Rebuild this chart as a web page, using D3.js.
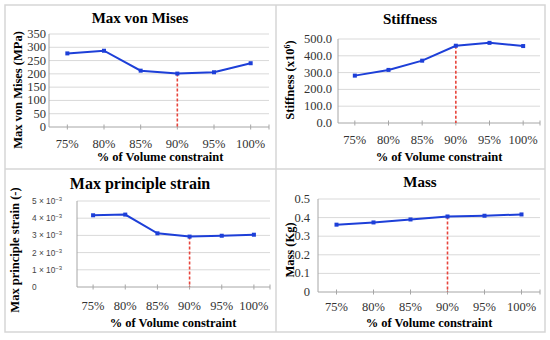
<!DOCTYPE html>
<html><head><meta charset="utf-8">
<script src="https://cdn.jsdelivr.net/npm/d3@7"></script>
<style>body{margin:0;background:#fff}svg{display:block}</style>
</head><body>
<svg id="c" width="550" height="340"></svg>
<script>
const categories = ["75%","80%","85%","90%","95%","100%"];
const vonMises = [277, 287, 212, 201, 206, 240];
const stiffness = [282, 316, 371, 460, 477, 458];
const strain = [4.17e-3, 4.21e-3, 3.12e-3, 2.93e-3, 2.98e-3, 3.04e-3];
const mass = [0.362, 0.374, 0.390, 0.406, 0.410, 0.417];
const vonMisesTicks = [0,50,100,150,200,250,300,350];
const stiffnessTicks = [0,100,200,300,400,500];
const strainTicks = [0,1e-3,2e-3,3e-3,4e-3,5e-3];
const massTicks = [0,0.1,0.2,0.3,0.4,0.5];
const highlight = "90%";

const svg = d3.select("#c");
const serif = "'Liberation Serif','Times New Roman',serif";
const blue = "#1d3fd8", red = "#e8453c", grid = "#d9d9d9", axisCol = "#a6a6a6";

// panel borders
svg.append("rect").attr("x",5).attr("y",5).attr("width",540).attr("height",327)
  .attr("fill","none").attr("stroke","#d6d6d6").attr("stroke-width",1.5);
svg.append("line").attr("x1",276).attr("x2",276).attr("y1",5).attr("y2",332).attr("stroke","#d6d6d6").attr("stroke-width",1.5);
svg.append("line").attr("x1",5).attr("x2",545).attr("y1",169).attr("y2",169).attr("stroke","#d6d6d6").attr("stroke-width",1.5);

function panel(o){
  const g = svg.append("g");
  const x = d3.scaleBand().domain(categories).range([o.x0,o.x1]);
  const y = d3.scaleLinear().domain([o.ticks[0],o.ticks[o.ticks.length-1]]).range([o.y0,o.y1]);
  const cx = d => x(d)+x.bandwidth()/2;
  g.selectAll(".gl").data(o.ticks.slice(1)).enter().append("line")
    .attr("x1",o.x0).attr("x2",o.x1).attr("y1",d=>y(d)).attr("y2",d=>y(d))
    .attr("stroke",grid).attr("stroke-width",1);
  g.append("line").attr("x1",o.x0).attr("x2",o.x0).attr("y1",o.y0).attr("y2",o.y1).attr("stroke",axisCol);
  g.append("line").attr("x1",o.x0).attr("x2",o.x1).attr("y1",o.y0).attr("y2",o.y0).attr("stroke",axisCol);
  const tx = categories.map(cx).concat([o.x1]);
  g.selectAll(".xt").data(tx).enter().append("line")
    .attr("x1",d=>d).attr("x2",d=>d).attr("y1",o.y0-2.5).attr("y2",o.y0+2.5).attr("stroke",axisCol);
  g.selectAll(".xl").data(categories).enter().append("text")
    .attr("x",cx).attr("y",o.xly).attr("text-anchor","middle")
    .attr("font-family",serif).attr("font-size",12.5).attr("fill","#333").text(d=>d);
  if (o.strainLabels){
    o.ticks.forEach(t=>{
      const tt = g.append("text").attr("x",o.ylx).attr("y",y(t)+3)
        .attr("font-family","'Liberation Sans',Arial,sans-serif").attr("font-size",8.3).attr("fill","#444");
      if (t===0) tt.text("0");
      else {
        tt.append("tspan").text(Math.round(t*1000)+" \u00d7 10");
        tt.append("tspan").attr("dy",-3).attr("font-size",6).text("\u22123");
      }
    });
  } else {
    g.selectAll(".yl").data(o.ticks).enter().append("text")
      .attr("x",o.ylx).attr("y",d=>y(d)+4).attr("text-anchor","end")
      .attr("font-family",serif).attr("font-size",12.5).attr("fill","#333").text(o.fmt);
  }
  const hi = categories.indexOf(highlight);
  g.append("line").attr("x1",cx(highlight)).attr("x2",cx(highlight))
    .attr("y1",y(o.values[hi])).attr("y2",o.y0)
    .attr("stroke",red).attr("stroke-width",1.6).attr("stroke-dasharray","3,2");
  const line = d3.line().x((d,i)=>cx(categories[i])).y(d=>y(d));
  g.append("path").datum(o.values).attr("d",line).attr("fill","none")
    .attr("stroke",blue).attr("stroke-width",2);
  g.selectAll(".m").data(o.values).enter().append("rect")
    .attr("x",(d,i)=>cx(categories[i])-2).attr("y",d=>y(d)-2)
    .attr("width",4).attr("height",4).attr("fill",blue);
  g.append("text").attr("x",o.tx).attr("y",o.ty).attr("text-anchor","middle")
    .attr("font-family",serif).attr("font-weight","bold").attr("font-size",o.tfs).attr("fill","#000").text(o.title);
  g.append("text").attr("x",o.axx).attr("y",o.axy).attr("text-anchor","middle")
    .attr("font-family",serif).attr("font-weight","bold").attr("font-size",12.5).attr("fill","#000").text("% of Volume constraint");
  const yt = g.append("text").attr("transform",`translate(${o.ytx},${o.yty}) rotate(-90)`)
    .attr("text-anchor","middle").attr("font-family",serif).attr("font-weight","bold")
    .attr("font-size",12.5).attr("fill","#000");
  if (o.ysup){
    yt.append("tspan").text(o.ytitle);
    yt.append("tspan").attr("dy",-4).attr("font-size",8).text(o.ysup);
    yt.append("tspan").attr("dy",4).text(")");
  } else yt.text(o.ytitle);
}

panel({values:vonMises, ticks:vonMisesTicks, x0:49, x1:269, y0:127, y1:34, xly:148, ylx:46,
  fmt:d=>d, title:"Max von Mises", tx:140, ty:23, tfs:15, axx:160, axy:161,
  ytitle:"Max von Mises (MPa)", ytx:22, yty:90});
panel({values:stiffness, ticks:stiffnessTicks, x0:338, x1:540, y0:123, y1:39, xly:144, ylx:332,
  fmt:d=>d.toFixed(1), title:"Stiffness", tx:410, ty:24, tfs:15, axx:439, axy:161,
  ytitle:"Stiffness (x10", ysup:"6", ytx:294, yty:80});
panel({values:strain, ticks:strainTicks, x0:77, x1:270, y0:287, y1:201, xly:310, ylx:32, strainLabels:true,
  title:"Max principle strain", tx:140, ty:189, tfs:16, axx:173, axy:327,
  ytitle:"Max principle strain (-)", ytx:19, yty:250});
panel({values:mass, ticks:massTicks, x0:318, x1:540, y0:292, y1:199, xly:311, ylx:310,
  fmt:d=>d===0?"0":d.toFixed(1), title:"Mass", tx:420, ty:187, tfs:15, axx:429, axy:327,
  ytitle:"Mass (Kg)", ytx:294, yty:250});
</script>
</body></html>
